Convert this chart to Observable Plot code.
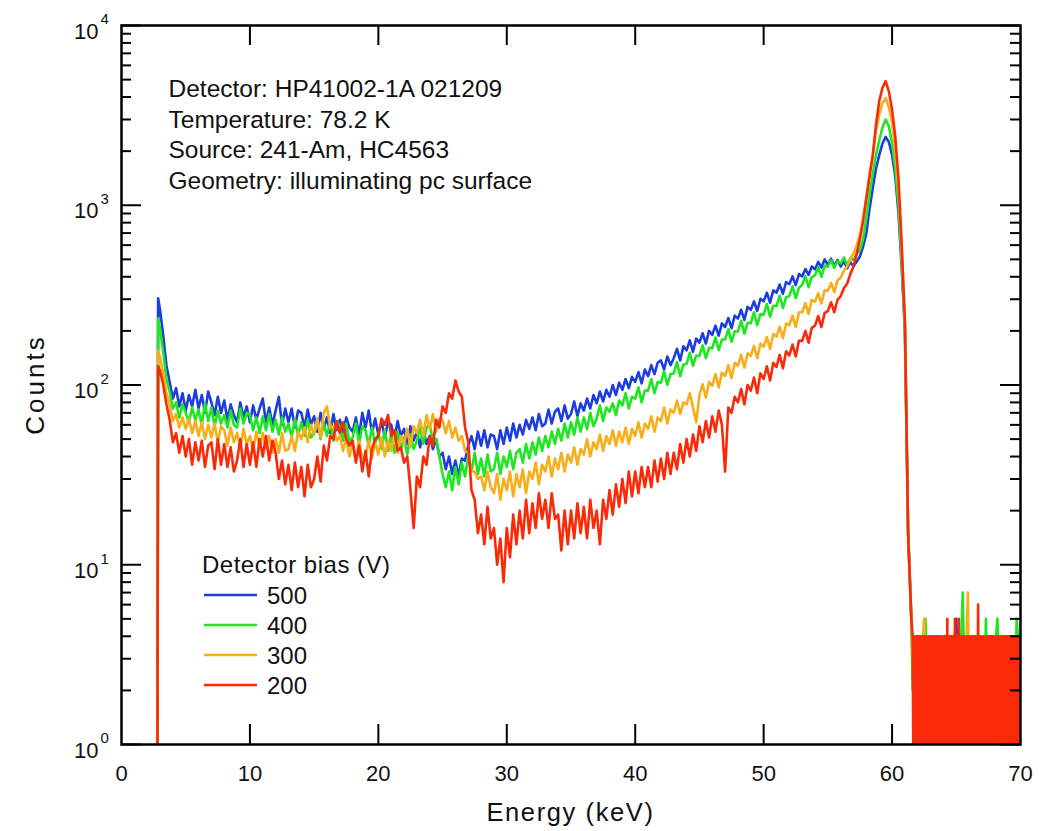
<!DOCTYPE html>
<html><head><meta charset="utf-8">
<script src="https://cdn.jsdelivr.net/npm/d3@7"></script>
<script src="https://cdn.jsdelivr.net/npm/@observablehq/plot@0.6"></script>
<style>
body{margin:0;background:#fff;}
#chart{position:relative;width:1058px;height:831px;}
</style>
</head><body><div id="chart"></div>
<script>
// ---------------- data ----------------
const biasLabels = ["500", "400", "300", "200"];
const biasColors = ["#1c3ee0", "#1ee620", "#f8ae1a", "#fa2a08"];
const xTickValues = [0, 10, 20, 30, 40, 50, 60, 70];
const yDecades = [0, 1, 2, 3, 4];
const annotationLines = [
  "Detector: HP41002-1A 021209",
  "Temperature: 78.2 K",
  "Source: 241-Am, HC4563",
  "Geometry: illuminating pc surface"
];
const legendTitle = "Detector bias (V)";
const xTitle = "Energy (keV)";
const yTitle = "Counts";

// energy channels (keV): threshold edge, main spectrum (0.25 keV bins), high-energy tail
const energyStart = [2.8, 2.85];
const energyMain = d3.range(3, 61.51, 0.25);
const energyTail = d3.range(616, 700).map(d => d / 10);        // 0.1 keV bins
const energyTailFine = d3.range(1232, 1400).map(d => d / 20);  // 0.05 keV bins (200 V run)

// counts
const main500 = [
  262,188,128,104, 84,96,76,90, 72,88,76,94, 74,88,70,92, 80,68,86,70,
  82,64,78,68, 62,80,66,76, 62,77,64,74, 84,62,75,60, 72,86,60,74,
  62,74,58,72, 70,58,73,60, 67,55,70,57, 66,54,69,56, 64,54,66,58,
  55,66,52,70, 58,72,54,65, 53,63,51,62, 60,50,63,52, 57,47,59,49,
  55,45,57,47, 52,44,50,40, 42,34,40,32, 38,31,39,38, 46,52,44,55,
  46,56,45,53, 52,44,56,47, 58,49,61,51, 60,53,64,57, 66,56,69,59,
  61,73,61,71, 74,63,77,65, 69,81,67,79, 72,84,74,88, 79,92,81,94,
  86,100,88,103, 94,108,96,111, 104,118,102,122, 112,129,115,133, 137,122,144,129,
  141,159,137,164, 156,177,153,181, 172,194,170,200, 190,214,188,220, 210,236,207,243,
  234,262,230,272, 262,292,258,302, 292,326,287,336, 326,362,322,374, 364,402,360,414,
  402,442,410,456, 440,484,450,500, 466,504,460,496, 456,488,446,482, 458,486,520,590,
  700,960,1250,1600, 1900,2200,2400,2250, 1900,1450,900,450, 200,15,5
];
const tail500 = [
  3,2,4,3,1,4,2,3,4,1, 4,2,3,4,1,3,4,2,4,3, 2,4,1,3,4,2,4,3,1,4, 3,4,2,4,5,3,4,1,4,2,
  3,4,1,4,3,2,4,3,4,1, 4,3,2,4,1,4,3,4,2,3, 4,1,3,4,2,4,3,1,4,3, 2,4,3,4,1,3,4,2,4,3,
  4,2,3,4
];
const main400 = [
  205,152,108,92, 74,80,66,78, 70,62,75,64, 73,60,79,63, 75,59,72,61,
  68,58,72,60, 58,74,61,70, 68,56,66,54, 67,56,69,55, 64,53,66,55,
  61,51,65,52, 62,52,64,51, 54,64,50,61, 52,62,49,63, 59,49,61,48,
  51,61,47,59, 56,46,58,47, 54,44,56,43, 53,42,55,44, 51,41,53,44,
  49,58,47,58, 60,49,50,40, 32,27,33,26, 35,28,37,31, 40,33,42,32,
  39,31,41,33, 34,42,32,40, 35,43,34,42, 44,37,47,39, 48,41,51,43,
  52,45,55,47, 57,49,61,51, 62,53,66,55, 66,57,70,59, 65,77,63,75,
  71,79,68,82, 77,90,74,86, 84,97,80,93, 93,108,90,104, 103,119,100,115,
  116,134,112,130, 131,151,128,146, 145,166,141,161, 160,184,156,179, 179,204,174,199,
  198,228,193,222, 221,254,215,248, 246,282,240,276, 275,314,268,308, 312,354,304,348,
  360,404,350,398, 408,452,400,462, 454,494,448,488, 474,512,466,506, 496,535,560,650,
  850,1150,1500,1900, 2300,2700,3000,2750, 2200,1600,1000,480, 210,15,5
];
const tail400 = [
  2,3,4,1,3,4,2,4,3,4, 5,3,4,2,4,1,3,4,2,3, 4,2,3,4,1,3,4,2,4,3, 1,3,4,2,3,4,1,3,4,7,
  3,4,2,3,4,1,4,3,2,4, 3,4,2,4,3,4,1,5,3,4, 2,4,3,4,1,4,5,3,4,2, 4,3,1,4,3,4,2,4,3,4,
  2,5,4,3
];
const main300 = [
  142,116,90,78, 63,69,58,66, 57,65,54,63, 52,62,50,60, 51,61,48,59,
  56,46,58,48, 54,45,57,47, 52,43,55,45, 54,44,52,42, 50,42,54,43,
  44,52,43,55, 50,58,48,60, 53,65,51,70, 76,58,59,49, 52,43,51,40,
  47,38,49,39, 40,49,39,48, 41,51,40,49, 43,53,42,52, 47,57,45,59,
  54,64,52,68, 57,69,55,65, 64,54,63,51, 58,49,52,43, 42,33,33,30,
  31,26,33,27, 25,32,23,30, 26,33,24,32, 27,34,25,33, 30,37,28,36,
  33,40,31,39, 34,42,33,41, 37,45,36,44, 41,50,40,48, 44,53,43,52,
  47,56,46,55, 48,58,47,57, 52,62,51,61, 57,67,55,66, 63,75,61,73,
  70,82,69,80, 78,90,75,62, 88,101,85,104, 99,115,97,117, 112,129,109,133,
  128,147,125,150, 145,165,141,170, 163,185,159,192, 186,211,182,220, 215,243,210,254,
  254,286,248,298, 290,324,284,336, 334,370,328,382, 396,432,456,502, 540,600,690,850,
  1100,1500,1900,2600, 3200,3700,3950,3500, 2900,2000,1200,550, 220,15,5
];
const tail300 = [
  3,4,2,4,1,3,4,1,4,5, 2,4,1,3,4,1,4,2,3,4, 1,4,3,2,4,1,4,3,4,1, 4,2,4,3,1,4,4,2,4,3,
  1,4,4,7,2,4,1,4,3,4, 2,4,1,4,3,4,1,4,2,4, 3,1,4,2,4,1,4,3,4,2, 4,1,4,3,2,4,1,4,2,4,
  3,4,1,4
];
const main200 = [
  120,100,78,64, 48,54,42,52, 40,50,36,48, 38,49,35,46, 48,34,50,36,
  47,35,45,33, 38,50,35,47, 36,48,35,50, 40,52,38,49, 42,30,38,28,
  36,26,37,27, 35,24,36,27, 30,40,29,46, 38,52,50,63, 54,62,50,46,
  49,37,46,33, 43,31,44,50, 52,65,60,68, 52,56,43,45, 37,40,26,16,
  31,27,40,36, 52,46,64,58, 76,70,90,84, 106,92,86,58, 48,26,23,15,
  19,13,21,14, 16,10,14,8, 16,11,19,13, 20,14,23,15, 22,16,25,18,
  23,16,25,18, 19,12,20,13, 20,14,22,15, 21,14,23,16, 20,13,23,18,
  26,19,28,21, 30,22,33,24, 33,25,35,27, 35,27,38,29, 39,30,42,32,
  42,34,47,37, 50,40,53,43, 59,48,63,51, 67,55,72,60, 33,75,70,86,
  80,95,78,100, 93,110,90,116, 108,127,106,133, 126,147,124,154, 146,168,144,176,
  176,200,172,208, 214,242,210,252, 258,288,254,298, 312,346,366,414, 456,540,650,820,
  1100,1450,1900,2800, 3800,4500,4900,4300, 3400,2400,1400,600, 230,15,5
];
const tail200 = [
  4,1,4,1,3,1,4,2,4,1,4,1,4,3,1,4,1,4,2,4,
  1,4,1,3,1,4,2,1,4,1,4,3,1,4,1,2,4,1,4,1,
  4,1,4,2,4,1,3,1,4,1,4,2,4,1,5,1,4,1,3,4,
  1,4,2,4,1,3,5,1,4,1,4,1,5,2,4,1,4,3,1,4,
  4,1,3,1,4,1,4,2,4,1,3,1,4,1,4,2,1,4,1,3,
  4,1,6,1,4,2,4,1,3,1,4,1,4,2,1,4,1,3,4,1,
  4,1,4,2,1,4,1,3,4,1,4,1,4,2,4,1,3,1,4,1,
  2,4,1,4,1,3,4,1,4,2,4,1,4,1,3,4,1,4,2,1,
  4,1,4,2,4,1,3,4
];
const startPeaks = [304, 234, 155, 127];   // value at the 2.85 keV threshold spike

const series = [
  {bias: "500", main: main500, tail: tail500, tailE: energyTail},
  {bias: "400", main: main400, tail: tail400, tailE: energyTail},
  {bias: "300", main: main300, tail: tail300, tailE: energyTail},
  {bias: "200", main: main200, tail: tail200, tailE: energyTailFine}
];

// ---------------- layout ----------------
const W = 1058, H = 831;
const mL = 121, mR = 38, mT = 25, mB = 87;
const xDomain = [0, 70];
const pxPerKeV = (W - mL - mR) / (xDomain[1] - xDomain[0]);
const pxPerDecade = (H - mT - mB) / 4;
const majorLen = 20, minorLen = 10;
const fontFamily = "'Liberation Sans', Arial, Helvetica, sans-serif";
const ink = "#111";

const tables = series.map((s, i) => {
  const e = [...energyStart, ...energyMain, ...s.tailE];
  const c = [1, startPeaks[i], ...s.main, ...s.tail];
  if (e.length !== c.length) console.error("length mismatch", s.bias, e.length, c.length);
  return e.map((x, j) => ({energy: x, counts: c[j], bias: s.bias}));
});

const minorY = [];
for (let d = 0; d < 4; d++) for (let m = 2; m <= 9; m++) minorY.push(m * 10 ** d);
const majorY = [1, 10, 100, 1000, 10000];
const kx = len => len / pxPerKeV;               // pixel length -> keV
const ky = len => 10 ** (len / pxPerDecade);     // pixel length -> factor on log axis

const marks = [];
tables.forEach((t, i) => {
  marks.push(Plot.line(t, {x: "energy", y: "counts", stroke: biasColors[i], strokeWidth: 2.6, clip: true, strokeLinejoin: "round"}));
});
// inward ticks mirrored on all four sides
const xInner = xTickValues.slice(1, -1);
const tickStyle = {stroke: "black", strokeWidth: 2};
marks.push(Plot.ruleX(xInner, {x: d => d, y1: 1, y2: ky(majorLen), ...tickStyle}));
marks.push(Plot.ruleX(xInner, {x: d => d, y1: 10000, y2: 10000 / ky(majorLen), ...tickStyle}));
marks.push(Plot.ruleY(majorY, {y: d => d, x1: 0, x2: kx(majorLen), ...tickStyle}));
marks.push(Plot.ruleY(majorY, {y: d => d, x1: 70 - kx(majorLen), x2: 70, ...tickStyle}));
marks.push(Plot.ruleY(minorY, {y: d => d, x1: 0, x2: kx(minorLen), ...tickStyle}));
marks.push(Plot.ruleY(minorY, {y: d => d, x1: 70 - kx(minorLen), x2: 70, ...tickStyle}));
marks.push(Plot.frame({stroke: "black", strokeWidth: 2.5}));
// tick labels
marks.push(Plot.text(xTickValues, {x: d => d, y: 1, dy: 29, text: d => String(d), fontSize: 22, fill: ink}));
marks.push(Plot.text(yDecades, {x: 0, y: d => 10 ** d, dx: -23, dy: 6, textAnchor: "end", text: () => "10", fontSize: 22, fill: ink}));
marks.push(Plot.text(yDecades, {x: 0, y: d => 10 ** d, dx: -21, dy: -6, textAnchor: "start", text: d => String(d), fontSize: 15, fill: ink}));
// annotation
marks.push(Plot.text([annotationLines.join("\n")], {frameAnchor: "top-left", dx: 47, dy: 50, lineAnchor: "top", textAnchor: "start", lineHeight: 1.25, text: d => d, fontSize: 24.5, fill: ink}));

const plot = Plot.plot({
  width: W, height: H,
  marginLeft: mL, marginRight: mR, marginTop: mT, marginBottom: mB,
  x: {domain: xDomain, axis: null},
  y: {type: "log", domain: [1, 10000], axis: null},
  style: {fontFamily, background: "white", overflow: "visible"},
  marks
});
document.getElementById("chart").appendChild(plot);

const svg = d3.select(plot);
const sx = plot.scale("x"), sy = plot.scale("y");
// axis titles (letter-spaced like the original)
svg.append("text").attr("x", sx.apply(35)).attr("y", H - mB + 68).attr("dy", "0.36em")
  .attr("text-anchor", "middle").attr("font-family", fontFamily).attr("font-size", 25.5)
  .attr("letter-spacing", 1.6).attr("fill", ink).text(xTitle);
svg.append("text").attr("transform", `translate(${mL - 86},${sy.apply(100)}) rotate(-90)`).attr("dy", "0.36em")
  .attr("text-anchor", "middle").attr("font-family", fontFamily).attr("font-size", 26)
  .attr("letter-spacing", 3).attr("fill", ink).text(yTitle);

// legend inside the plot area (lower left)
const lg = svg.append("g").attr("font-family", fontFamily).attr("fill", ink).attr("text-anchor", "start");
lg.append("text").attr("x", 202).attr("y", 573).attr("font-size", 24).attr("letter-spacing", 0.5).text(legendTitle);
biasLabels.forEach((b, i) => {
  const y = 595 + i * 30;
  lg.append("line").attr("x1", 204).attr("x2", 257).attr("y1", y).attr("y2", y)
    .attr("stroke", biasColors[i]).attr("stroke-width", 2.5);
  lg.append("text").attr("x", 267).attr("y", y).attr("dy", "0.36em").attr("font-size", 24).text(b);
});
</script>
</body></html>
